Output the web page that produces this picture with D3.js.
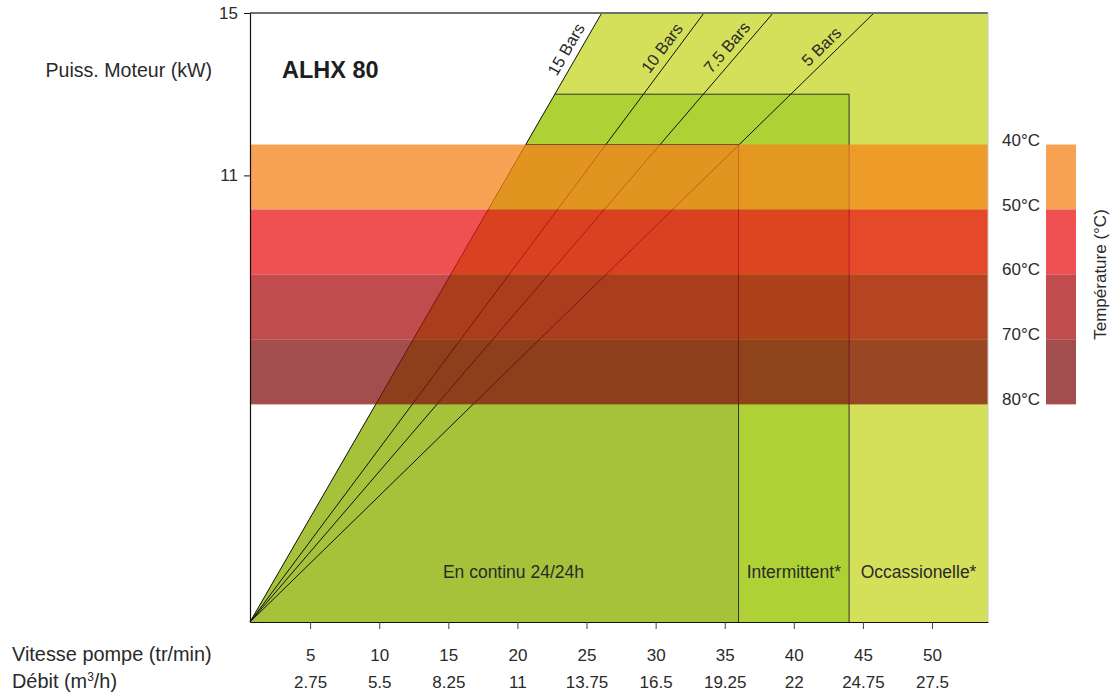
<!DOCTYPE html>
<html><head><meta charset="utf-8">
<script src="https://cdn.jsdelivr.net/npm/d3@7"></script>
<style>
body{margin:0;background:#fff}
svg text{font-family:"Liberation Sans",Arial,Helvetica,sans-serif;fill:#2a2a2a}
</style>
</head><body><svg id="c" width="1111" height="693"></svg>
<script>
// ---- data ----
const speedTicks = [5,10,15,20,25,30,35,40,45,50];
const flowTicks = ["2.75","5.5","8.25","11","13.75","16.5","19.25","22","24.75","27.5"];
const powerTicks = [15,11];
const pressureLabels = ["15 Bars","10 Bars","7.5 Bars","5 Bars"];
const pressureSpeedAtMax = [26.1,33.5,38.5,45.8];   // pump speed where each pressure line reaches 15 kW
const zoneLabels = ["En continu 24/24h","Intermittent*","Occassionelle*"];
const zoneSpeedLimit = [36,44,54.05];
const zonePowerLimit = [11.76,13,15];
const tempLabels = ["40°C","50°C","60°C","70°C","80°C"];
const tempEdges = [11.76,10.16,8.56,6.96,5.36];
const speedMin = 0.65, speedMax = 54.05, powerMin = 0, powerMax = 15;

// ---- styles ----
const zoneColors = ["#a6c23a","#aed136","#d4e05a"];
const tempColors = ["#f5841a","#e9171a","#ab1012","#841313"];
const bandOpacity = 0.75;

const svg = d3.select("#c");
const x = d3.scaleLinear().domain([speedMin, speedMax]).range([250, 988]);
const y = d3.scaleLinear().domain([powerMin, powerMax]).range([622, 13]);

const lineSpeed = (i, p) => speedMin + (pressureSpeedAtMax[i] - speedMin) * p / powerMax;

// zones (draw widest first)
for (let k = zoneLabels.length - 1; k >= 0; k--) {
  const lim = zonePowerLimit[k];
  const pts = [[speedMin, 0],[lineSpeed(0, lim), lim],[zoneSpeedLimit[k], lim],[zoneSpeedLimit[k], 0]];
  svg.append("path")
    .attr("d", d3.line().x(d => x(d[0])).y(d => y(d[1]))(pts) + "Z")
    .attr("fill", zoneColors[k]);
  if (k < zoneLabels.length - 1) {
    svg.append("path")
      .attr("d", d3.line().x(d => x(d[0])).y(d => y(d[1]))(pts.slice(1)))
      .attr("fill", "none").attr("stroke", "#333").attr("stroke-width", 1);
  }
}

// pressure lines
pressureLabels.forEach((lab, i) => {
  svg.append("line")
    .attr("x1", x(speedMin)).attr("y1", y(0))
    .attr("x2", x(pressureSpeedAtMax[i])).attr("y2", y(powerMax))
    .attr("stroke", "#111").attr("stroke-width", 1);
});

// temperature bands
for (let j = 0; j < tempColors.length; j++) {
  svg.append("rect")
    .attr("x", x(speedMin)).attr("width", x(speedMax) - x(speedMin))
    .attr("y", y(tempEdges[j])).attr("height", y(tempEdges[j+1]) - y(tempEdges[j]))
    .attr("fill", tempColors[j]).attr("fill-opacity", bandOpacity);
}

// pressure labels
const labelPower = 13.95;
pressureLabels.forEach((lab, i) => {
  const dxp = x(pressureSpeedAtMax[i]) - x(speedMin);
  const dyp = y(0) - y(powerMax);
  const ang = Math.atan2(dyp, dxp) * 180 / Math.PI;
  const px = x(lineSpeed(i, labelPower)), py = y(labelPower);
  svg.append("text")
    .attr("transform", `translate(${px},${py}) rotate(${-ang})`)
    .attr("text-anchor", "middle").attr("dy", -7)
    .attr("font-size", 16.5).text(lab);
});

// zone labels
const zoneLabelPower = 1.08;
zoneLabels.forEach((lab, k) => {
  const left = k === 0 ? lineSpeed(0, zoneLabelPower + 0.3) : zoneSpeedLimit[k-1];
  const cx = (x(left) + x(zoneSpeedLimit[k])) / 2 + (k === 0 ? 3 : 0);
  svg.append("text").attr("x", cx).attr("y", y(zoneLabelPower))
    .attr("text-anchor", "middle").attr("font-size", 17.5).text(lab);
});

// frame: top gray line and right edge
svg.append("line").attr("x1", x(speedMin)).attr("x2", x(speedMax)).attr("y1", y(powerMax)).attr("y2", y(powerMax))
  .attr("stroke", "#707070").attr("stroke-width", 2);
svg.append("line").attr("x1", x(speedMax)).attr("x2", x(speedMax)).attr("y1", y(powerMax)).attr("y2", y(0))
  .attr("stroke", "#c8c8c8").attr("stroke-width", 1);

// axes
const ax1 = svg.append("g").attr("transform", `translate(0,${y(0)})`)
  .call(d3.axisBottom(x).tickValues(speedTicks).tickSizeInner(7).tickSizeOuter(0).tickPadding(20).tickFormat(d3.format("d")));
const ax2 = svg.append("g").attr("transform", `translate(0,${y(0)})`)
  .call(d3.axisBottom(x).tickValues(speedTicks).tickSize(0).tickPadding(54).tickFormat((d, i) => flowTicks[i]));
ax2.select(".domain").remove();
const ay = svg.append("g").attr("transform", `translate(${x(speedMin)},0)`)
  .call(d3.axisLeft(y).tickValues(powerTicks).tickSizeInner(6).tickSizeOuter(0).tickPadding(6).tickFormat(d3.format("d")));
[ax1, ax2, ay].forEach(g => {
  g.attr("font-family", null).attr("font-size", null).attr("color", "#111");
  g.selectAll("text").attr("font-size", 17).style("fill", "#2a2a2a");
  g.select(".domain").attr("stroke-width", 1.2);
});
ax1.selectAll(".tick line").attr("stroke", "#444");

// axis titles
svg.append("text").attr("x", 212).attr("y", 77).attr("text-anchor", "end").attr("font-size", 19.6).text("Puiss. Moteur (kW)");
svg.append("text").attr("x", 12).attr("y", 661).attr("font-size", 19.9).text("Vitesse pompe (tr/min)");
const deb = svg.append("text").attr("x", 12).attr("y", 688).attr("font-size", 19.9);
deb.append("tspan").text("Débit (m");
deb.append("tspan").attr("font-size", 12).attr("dy", -7).text("3");
deb.append("tspan").attr("dy", 7).text("/h)");

// title
svg.append("text").attr("x", 282).attr("y", 78).attr("font-size", 23.5).attr("font-weight", "bold")
  .style("fill", "#1e1e1e").text("ALHX 80");

// legend
const lgX = 1046, lgW = 30;
for (let j = 0; j < tempColors.length; j++) {
  svg.append("rect").attr("x", lgX).attr("width", lgW)
    .attr("y", y(tempEdges[j])).attr("height", y(tempEdges[j+1]) - y(tempEdges[j]))
    .attr("fill", tempColors[j]).attr("fill-opacity", bandOpacity);
}
tempLabels.forEach((lab, j) => {
  svg.append("text").attr("x", 1040).attr("y", y(tempEdges[j]) + 1)
    .attr("text-anchor", "end").attr("font-size", 17).text(lab);
});
svg.append("text")
  .attr("transform", `translate(1106,${(y(tempEdges[0]) + y(tempEdges[tempEdges.length-1])) / 2}) rotate(-90)`)
  .attr("text-anchor", "middle").attr("font-size", 17).text("Température (°C)");
</script>
</body></html>
